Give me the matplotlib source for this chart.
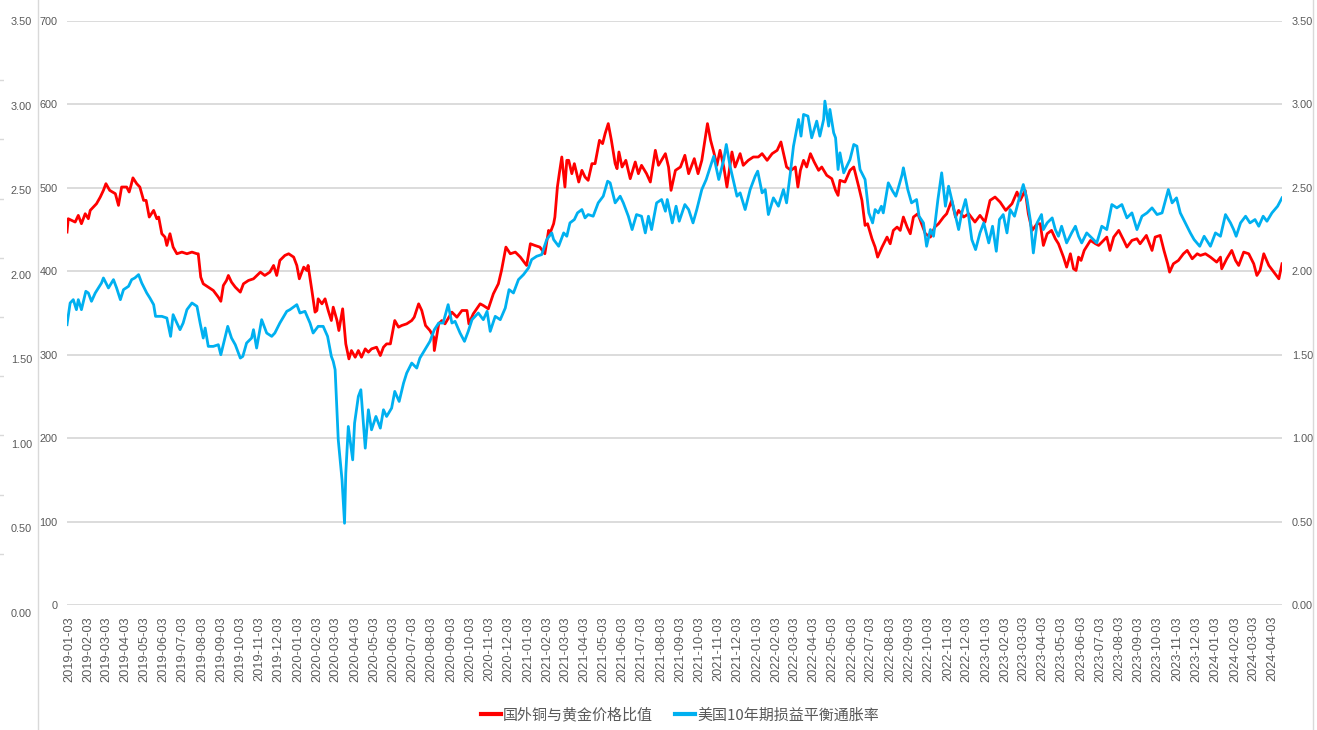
import numpy as np
import pandas as pd
import matplotlib
matplotlib.use("Agg")
import matplotlib.pyplot as plt
from matplotlib.lines import Line2D

# day offsets are counted from BASE_DATE
BASE_DATE = pd.Timestamp("2018-12-31")
LAST_DAY = 1935

# 国外铜与黄金价格比值 (left axis)
CU_AU = [
    (0, 447), (2, 463), (13, 459), (18, 467), (23, 457), (29, 469), (34, 463), (37, 473),
    (42, 477), (47, 481), (53, 489), (58, 497), (62, 505), (68, 497), (77, 493), (82, 479),
    (87, 501), (95, 501), (99, 495), (102, 503), (105, 512), (111, 505), (116, 501), (122, 485),
    (126, 485), (131, 465), (138, 473), (143, 463), (146, 465), (151, 445), (156, 441), (159, 431),
    (164, 445), (169, 429), (175, 421), (183, 423), (191, 421), (199, 423), (207, 421), (209, 421),
    (213, 393), (217, 385), (225, 381), (233, 377), (241, 369), (245, 364), (249, 383), (254, 389),
    (257, 395), (262, 387), (268, 381), (276, 375), (281, 385), (289, 389), (297, 391), (308, 399),
    (315, 395), (323, 399), (329, 407), (334, 395), (339, 413), (347, 419), (353, 421), (361, 417),
    (366, 407), (370, 391), (377, 405), (382, 401), (384, 407), (390, 377), (395, 351), (398, 353),
    (400, 367), (406, 361), (411, 367), (416, 353), (421, 341), (424, 357), (430, 341), (433, 329),
    (439, 355), (444, 313), (449, 295), (453, 305), (459, 297), (464, 305), (469, 297), (475, 307),
    (480, 303), (485, 307), (493, 309), (499, 299), (504, 309), (509, 313), (515, 313), (518, 325),
    (522, 341), (528, 333), (533, 335), (541, 337), (549, 341), (553, 345), (560, 361), (565, 353),
    (571, 335), (578, 329), (584, 321), (585, 305), (592, 337), (597, 341), (602, 337), (613, 351),
    (621, 345), (629, 353), (637, 353), (640, 337), (647, 349), (658, 361), (663, 359), (671, 355),
    (679, 373), (687, 385), (692, 401), (699, 429), (706, 421), (714, 423), (722, 417), (732, 407),
    (738, 433), (745, 431), (753, 429), (761, 421), (767, 449), (769, 445), (775, 457), (777, 465),
    (781, 501), (784, 517), (788, 537), (793, 501), (796, 533), (799, 533), (804, 517), (808, 529),
    (815, 507), (820, 521), (825, 513), (830, 509), (836, 529), (841, 529), (848, 557), (853, 553),
    (857, 565), (862, 577), (867, 557), (873, 529), (876, 523), (879, 543), (884, 525), (890, 533),
    (897, 511), (905, 531), (910, 517), (915, 527), (923, 517), (929, 507), (937, 545), (942, 527),
    (953, 541), (958, 525), (962, 497), (969, 521), (977, 525), (984, 539), (990, 517), (999, 535),
    (1005, 517), (1011, 533), (1016, 557), (1020, 577), (1025, 557), (1030, 543), (1035, 527),
    (1040, 545), (1046, 525), (1051, 501), (1059, 543), (1064, 525), (1072, 541), (1077, 527),
    (1085, 533), (1093, 537), (1101, 537), (1107, 541), (1115, 533), (1123, 541), (1131, 545),
    (1137, 555), (1146, 525), (1153, 521), (1160, 525), (1164, 501), (1168, 521), (1173, 533),
    (1178, 525), (1184, 541), (1190, 531), (1197, 521), (1202, 525), (1210, 515), (1218, 511),
    (1224, 497), (1228, 491), (1231, 509), (1239, 507), (1247, 521), (1253, 525), (1261, 501),
    (1266, 485), (1271, 455), (1275, 457), (1282, 439), (1287, 429), (1291, 417), (1298, 429),
    (1306, 441), (1311, 433), (1316, 449), (1322, 453), (1327, 449), (1332, 465), (1338, 453),
    (1343, 445), (1348, 465), (1355, 469), (1361, 457), (1367, 445), (1375, 441), (1382, 453),
    (1388, 457), (1396, 465), (1401, 469), (1409, 485), (1415, 465), (1420, 473), (1428, 465),
    (1436, 469), (1446, 459), (1454, 467), (1462, 459), (1470, 485), (1478, 489), (1486, 483),
    (1495, 473), (1505, 481), (1513, 495), (1518, 485), (1526, 497), (1531, 469), (1537, 449),
    (1545, 457), (1550, 457), (1555, 431), (1561, 445), (1568, 449), (1574, 439), (1579, 433),
    (1587, 417), (1592, 405), (1598, 421), (1603, 403), (1607, 401), (1611, 417), (1615, 413),
    (1620, 425), (1630, 437), (1638, 433), (1643, 431), (1656, 441), (1661, 425), (1667, 441),
    (1675, 449), (1683, 437), (1688, 429), (1696, 437), (1704, 439), (1709, 433), (1719, 443),
    (1728, 425), (1733, 441), (1741, 443), (1747, 425), (1753, 409), (1756, 399), (1762, 409),
    (1770, 413), (1778, 421), (1784, 425), (1792, 415), (1800, 421), (1805, 419), (1813, 421),
    (1821, 417), (1831, 411), (1837, 417), (1839, 403), (1847, 415), (1855, 425), (1861, 413),
    (1866, 407), (1874, 423), (1882, 421), (1890, 409), (1895, 395), (1900, 401), (1906, 421),
    (1914, 407), (1922, 399), (1930, 391), (1935, 409),
]

# 美国10年期损益平衡通胀率 (right axis, %)
BEI = [
    (0, 1.68), (5, 1.81), (10, 1.83), (15, 1.77), (18, 1.83), (23, 1.77), (30, 1.88), (34, 1.87),
    (39, 1.82), (45, 1.87), (50, 1.90), (55, 1.93), (58, 1.96), (66, 1.90), (74, 1.95), (79, 1.90),
    (85, 1.83), (90, 1.89), (98, 1.91), (103, 1.95), (108, 1.96), (114, 1.98), (119, 1.93),
    (127, 1.87), (132, 1.84), (138, 1.80), (141, 1.73), (151, 1.73), (159, 1.72), (165, 1.61),
    (169, 1.74), (175, 1.69), (180, 1.65), (185, 1.69), (191, 1.77), (199, 1.81), (207, 1.79),
    (212, 1.69), (217, 1.60), (220, 1.66), (225, 1.55), (233, 1.55), (241, 1.56), (245, 1.50),
    (252, 1.61), (256, 1.67), (262, 1.60), (268, 1.56), (276, 1.48), (280, 1.49), (286, 1.57),
    (294, 1.60), (297, 1.65), (302, 1.54), (310, 1.71), (318, 1.63), (326, 1.61), (331, 1.63),
    (339, 1.69), (350, 1.76), (355, 1.77), (366, 1.80), (371, 1.75), (379, 1.76), (387, 1.69),
    (392, 1.63), (400, 1.67), (408, 1.67), (415, 1.61), (421, 1.49), (424, 1.46), (427, 1.41),
    (432, 0.99), (438, 0.75), (442, 0.49), (444, 0.79), (448, 1.07), (455, 0.87), (458, 1.09),
    (464, 1.25), (468, 1.29), (475, 0.94), (480, 1.17), (485, 1.05), (492, 1.13), (499, 1.06),
    (504, 1.17), (509, 1.13), (517, 1.18), (522, 1.28), (529, 1.22), (536, 1.33), (541, 1.39),
    (549, 1.45), (557, 1.42), (562, 1.48), (570, 1.53), (578, 1.58), (585, 1.65), (592, 1.69),
    (599, 1.69), (607, 1.80), (613, 1.69), (618, 1.70), (626, 1.63), (633, 1.58), (639, 1.64),
    (645, 1.71), (655, 1.75), (663, 1.71), (669, 1.76), (674, 1.64), (682, 1.73), (690, 1.71),
    (698, 1.78), (704, 1.89), (711, 1.87), (719, 1.95), (727, 1.98), (735, 2.02), (740, 2.07),
    (748, 2.09), (756, 2.10), (764, 2.19), (772, 2.23), (775, 2.19), (783, 2.15), (791, 2.23),
    (796, 2.21), (801, 2.29), (808, 2.31), (813, 2.35), (820, 2.37), (825, 2.32), (830, 2.34),
    (838, 2.33), (846, 2.41), (854, 2.45), (861, 2.54), (865, 2.53), (873, 2.41), (881, 2.45),
    (886, 2.41), (894, 2.33), (900, 2.25), (907, 2.34), (915, 2.33), (921, 2.23), (926, 2.33),
    (931, 2.25), (939, 2.41), (947, 2.43), (953, 2.36), (956, 2.43), (964, 2.29), (970, 2.39),
    (975, 2.30), (984, 2.40), (990, 2.37), (997, 2.29), (1003, 2.37), (1011, 2.49), (1018, 2.55),
    (1030, 2.69), (1038, 2.55), (1046, 2.67), (1050, 2.76), (1056, 2.63), (1067, 2.45),
    (1072, 2.47), (1080, 2.37), (1088, 2.49), (1096, 2.57), (1100, 2.60), (1107, 2.47),
    (1112, 2.49), (1117, 2.34), (1125, 2.44), (1133, 2.39), (1141, 2.49), (1146, 2.41),
    (1152, 2.59), (1157, 2.75), (1165, 2.91), (1169, 2.81), (1173, 2.94), (1180, 2.93),
    (1186, 2.80), (1194, 2.90), (1199, 2.81), (1205, 2.91), (1207, 3.02), (1213, 2.87),
    (1215, 2.97), (1221, 2.83), (1224, 2.80), (1228, 2.61), (1231, 2.71), (1237, 2.59),
    (1242, 2.63), (1247, 2.67), (1253, 2.76), (1258, 2.75), (1263, 2.61), (1271, 2.55),
    (1277, 2.35), (1283, 2.29), (1287, 2.37), (1292, 2.35), (1297, 2.39), (1300, 2.35),
    (1308, 2.53), (1315, 2.48), (1320, 2.45), (1324, 2.50), (1330, 2.58), (1332, 2.62),
    (1339, 2.49), (1345, 2.41), (1353, 2.43), (1357, 2.33), (1364, 2.29), (1369, 2.15),
    (1375, 2.25), (1380, 2.21), (1387, 2.43), (1393, 2.59), (1399, 2.39), (1404, 2.51),
    (1409, 2.43), (1420, 2.25), (1425, 2.35), (1431, 2.43), (1436, 2.33), (1441, 2.19),
    (1447, 2.13), (1454, 2.23), (1460, 2.29), (1468, 2.17), (1474, 2.27), (1480, 2.12),
    (1485, 2.31), (1491, 2.34), (1497, 2.23), (1502, 2.37), (1509, 2.33), (1516, 2.43),
    (1523, 2.52), (1529, 2.43), (1534, 2.31), (1539, 2.11), (1545, 2.29), (1552, 2.34),
    (1555, 2.25), (1561, 2.29), (1569, 2.32), (1574, 2.25), (1579, 2.21), (1584, 2.27),
    (1592, 2.17), (1600, 2.23), (1606, 2.27), (1611, 2.21), (1616, 2.17), (1624, 2.23),
    (1632, 2.20), (1640, 2.17), (1648, 2.27), (1656, 2.25), (1664, 2.40), (1672, 2.38),
    (1680, 2.40), (1688, 2.32), (1696, 2.35), (1704, 2.25), (1712, 2.33), (1720, 2.35),
    (1728, 2.38), (1736, 2.34), (1744, 2.35), (1754, 2.49), (1760, 2.41), (1767, 2.44),
    (1773, 2.35), (1781, 2.29), (1789, 2.23), (1795, 2.19), (1804, 2.15), (1811, 2.21),
    (1821, 2.15), (1829, 2.23), (1837, 2.21), (1845, 2.34), (1853, 2.29), (1858, 2.25),
    (1862, 2.21), (1869, 2.29), (1877, 2.33), (1884, 2.29), (1892, 2.31), (1898, 2.27),
    (1905, 2.33), (1911, 2.30), (1919, 2.35), (1928, 2.39), (1935, 2.44),
]

RATIO_TICKS = [0, 100, 200, 300, 400, 500, 600, 700]
RATE_TICKS = [0.0, 0.5, 1.0, 1.5, 2.0, 2.5, 3.0, 3.5]
MONTH_TICKS = pd.date_range("2019-01-01", "2024-04-01", freq="MS") + pd.Timedelta(days=2)
LABELS = ["国外铜与黄金价格比值", "美国10年期损益平衡通胀率"]

RED = "#FF0000"
BLUE = "#00B0F0"
GREY_TXT = "#595959"
GRID = "#d9d9d9"
NUM_FONT = ["DejaVu Sans Condensed", "Liberation Sans Narrow", "Liberation Sans"]
NUM_SIZE = 7.8
CJK_FONT = ["Noto Sans CJK SC", "DejaVu Sans"]

W, H = 1317, 730


def to_dates(days):
    return BASE_DATE + pd.to_timedelta(np.asarray(days), unit="D")


def main():
    r_day, r_val = zip(*CU_AU)
    b_day, b_val = zip(*BEI)

    fig = plt.figure(figsize=(W / 100, H / 100), dpi=100)
    fig.patch.set_facecolor("white")

    # panel edges
    for xp in (38, 1313):
        fig.add_artist(Line2D([xp / W, xp / W], [0, 1], color=GRID, lw=1.0))

    # partial value scale of the neighbouring panel on the far left
    side = fig.add_axes([0, 1 - 613 / H, 4 / W, 592 / H])
    side.set_ylim(0, 3.5)
    side.set_xlim(0, 1)
    for s in side.spines.values():
        s.set_visible(False)
    side.set_xticks([])
    side.yaxis.tick_right()
    side.set_yticks(RATE_TICKS)
    side.set_yticklabels([f"{v:.2f}" for v in RATE_TICKS], family=NUM_FONT,
                         fontsize=NUM_SIZE, color=GREY_TXT)
    side.set_yticks(np.linspace(0, 3.5, 11), minor=True)
    side.tick_params(axis="y", which="major", length=0, pad=5)
    side.tick_params(axis="y", which="minor", length=0)
    side.grid(True, which="minor", axis="y", color=GRID, lw=1.0)
    side.patch.set_alpha(0)

    ax = fig.add_axes([67 / W, 1 - 605 / H, (1282 - 67) / W, (605 - 21) / H])
    ax2 = ax.twinx()

    ax.plot(to_dates(r_day), r_val, color=RED, lw=2.0, solid_joinstyle="round", zorder=3)
    ax2.plot(to_dates(b_day), b_val, color=BLUE, lw=2.0, solid_joinstyle="round", zorder=3)

    ax.set_xlim(BASE_DATE, BASE_DATE + pd.Timedelta(days=LAST_DAY))
    ax.set_ylim(0, 700)
    ax2.set_ylim(0, 3.5)

    ax.set_yticks(RATIO_TICKS)
    ax.set_yticklabels([str(v) for v in RATIO_TICKS], family=NUM_FONT,
                       fontsize=NUM_SIZE, color=GREY_TXT)
    ax2.set_yticks(RATE_TICKS)
    ax2.set_yticklabels([f"{v:.2f}" for v in RATE_TICKS], family=NUM_FONT,
                        fontsize=NUM_SIZE, color=GREY_TXT)

    ax.set_xticks(MONTH_TICKS)
    ax.set_xticklabels([d.strftime("%Y-%m-%d") for d in MONTH_TICKS], rotation=90,
                       family=["Liberation Sans", "DejaVu Sans"], fontsize=9.2,
                       color=GREY_TXT, va="top", ha="center")

    ax.tick_params(axis="y", length=0, pad=7)
    ax2.tick_params(axis="y", length=0, pad=7)
    ax.tick_params(axis="x", length=0, pad=8)

    ax.grid(True, axis="y", color=GRID, lw=1.3, zorder=0)
    ax.set_axisbelow(True)
    for a in (ax, ax2):
        for s in a.spines.values():
            s.set_visible(False)

    handles = [Line2D([], [], color=RED, lw=3), Line2D([], [], color=BLUE, lw=3)]
    fig.legend(handles, LABELS, loc="center", bbox_to_anchor=(680 / W, 1 - 715 / H),
               ncol=2, frameon=False, prop={"family": CJK_FONT, "size": 10.8},
               labelcolor=GREY_TXT, handlelength=1.3, handletextpad=0.15,
               columnspacing=1.5)

    fig.savefig("out.png", dpi=100, facecolor="white")


if __name__ == "__main__":
    main()
